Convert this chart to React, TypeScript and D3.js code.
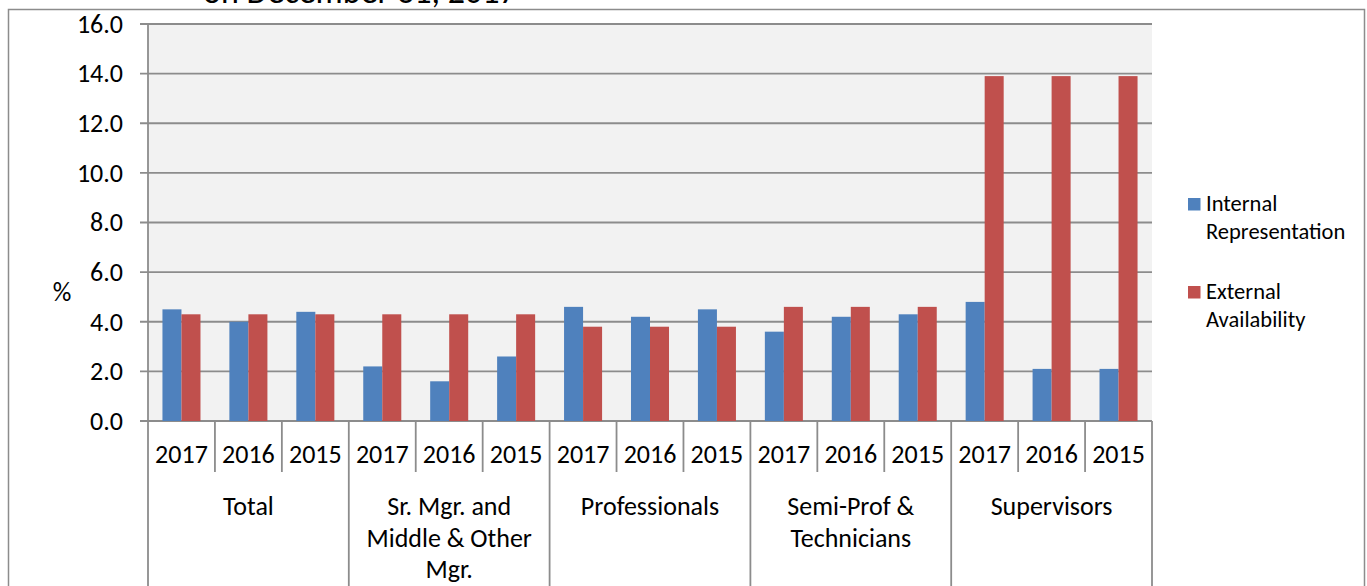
import React from 'react';
import * as d3 from 'd3';

const groups = ['Total', 'Sr. Mgr. and|Middle & Other|Mgr.', 'Professionals', 'Semi-Prof &|Technicians', 'Supervisors'];
const years = ['2017', '2016', '2015'];
const internalRep = [4.5, 4.0, 4.4, 2.2, 1.6, 2.6, 4.6, 4.2, 4.5, 3.6, 4.2, 4.3, 4.8, 2.1, 2.1];
const externalAvail = [4.3, 4.3, 4.3, 4.3, 4.3, 4.3, 3.8, 3.8, 3.8, 4.6, 4.6, 4.6, 13.9, 13.9, 13.9];
const yTicks = [0, 2, 4, 6, 8, 10, 12, 14, 16];
const seriesNames = ['Internal|Representation', 'External|Availability'];
const colors = ['#4f81bd', '#c0504d'];

const W = 1367;
const H = 586;
const m = { left: 148, right: 1152, top: 24, bottom: 421 };
const font = 'Calibri, Carlito, Lato, sans-serif';
const gridColor = '#8c8c8c';
const fs = 26;

const App = () => {
  const keys = groups.flatMap((g, gi) => years.map(y => `${gi}-${y}`));
  const x = d3.scaleBand().domain(keys).range([m.left, m.right]);
  const x1 = d3.scaleBand().domain(['int', 'ext']).range([0, x.bandwidth()]).paddingInner(0).paddingOuter(0.76);
  const y = d3.scaleLinear().domain([0, 16]).range([m.bottom, m.top]);
  const step = x.step();

  return (
    <svg width={W} height={H} style={{ position: 'absolute', left: 0, top: 0, background: '#fff' }}>
      {/* title, cut off by the top edge as in the source */}
      <text x={203} y={3} fontFamily={font} fontSize={34} fill="#000">on December 31, 2017</text>
      {/* outer frame */}
      <path d={`M8.5,${H} V9.5 H1364.5 V${H}`} fill="none" stroke={gridColor} strokeWidth={1.5} />

      <rect x={m.left} y={m.top} width={m.right - m.left} height={m.bottom - m.top} fill="#f2f2f2" />

      {/* grid + y ticks */}
      {yTicks.map(t => (
        <g key={t}>
          <line x1={140} x2={m.right} y1={y(t)} y2={y(t)} stroke={gridColor} strokeWidth={1.8} />
          <text x={123} y={y(t)} dy="0.34em" textAnchor="end" fontFamily={font} fontSize={fs} fill="#000">
            {t.toFixed(1)}
          </text>
        </g>
      ))}
      <line x1={m.left} x2={m.left} y1={m.top} y2={H} stroke={gridColor} strokeWidth={1.8} />
      <text x={62} y={292} dy="0.34em" textAnchor="middle" fontFamily={font} fontSize={fs} fill="#000">%</text>

      {/* bars */}
      {keys.map((k, i) => (
        <g key={k} transform={`translate(${x(k)},0)`}>
          <rect x={x1('int')} y={y(internalRep[i])} width={x1.bandwidth()} height={y(0) - y(internalRep[i])} fill={colors[0]} />
          <rect x={x1('ext')} y={y(externalAvail[i])} width={x1.bandwidth()} height={y(0) - y(externalAvail[i])} fill={colors[1]} />
        </g>
      ))}

      {/* category axis */}
      {keys.map((k, i) => {
        const right = (x(k) as number) + step;
        const isGroupEnd = (i + 1) % 3 === 0;
        return (
          <g key={'c' + k}>
            <line x1={right} x2={right} y1={m.bottom} y2={isGroupEnd ? H : 472} stroke={gridColor} strokeWidth={1.8} />
            <text x={(x(k) as number) + step / 2} y={463} textAnchor="middle" fontFamily={font} fontSize={fs} fill="#000">
              {years[i % 3]}
            </text>
          </g>
        );
      })}
      {groups.map((g, gi) => {
        const cx = (x(`${gi}-2017`) as number) + step * 1.5;
        return (
          <text key={g} x={cx} textAnchor="middle" fontFamily={font} fontSize={fs} fill="#000">
            {g.split('|').map((line, li) => (
              <tspan key={li} x={cx} y={515 + li * 31.5}>{line}</tspan>
            ))}
          </text>
        );
      })}

      {/* legend */}
      {seriesNames.map((s, si) => (
        <g key={s} transform={`translate(1188,${198 + si * 88})`}>
          <rect x={0} y={0} width={12.5} height={12.5} fill={colors[si]} />
          <text fontFamily={font} fontSize={22.5} fill="#000">
            {s.split('|').map((line, li) => (
              <tspan key={li} x={18} y={13 + li * 28}>{line}</tspan>
            ))}
          </text>
        </g>
      ))}
    </svg>
  );
};

export default App;
